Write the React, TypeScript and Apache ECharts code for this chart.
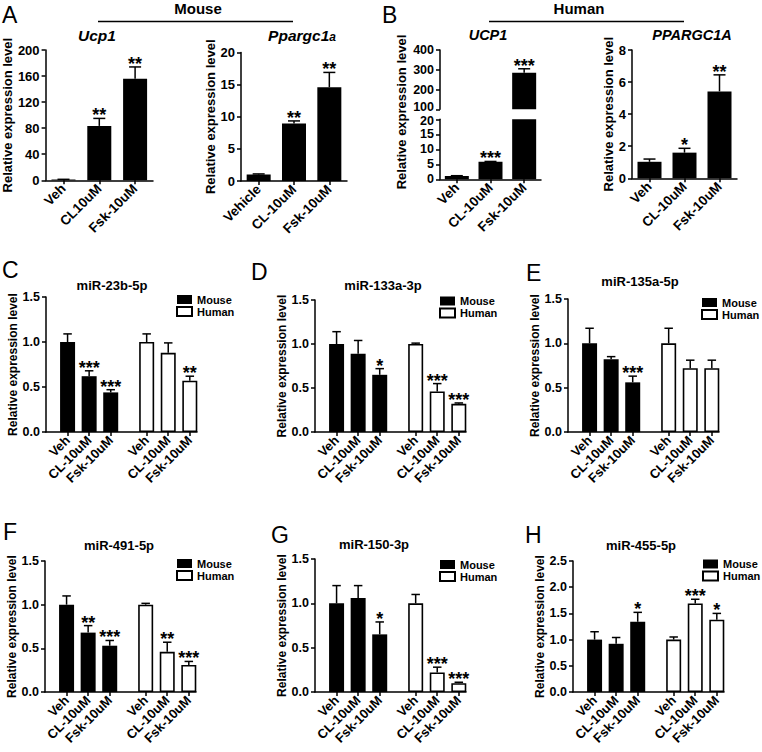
import React, { useEffect, useRef } from 'react';
import * as echarts from 'echarts';

const FONT = '"Liberation Sans", Arial, Helvetica, sans-serif';

// ---------- Panel A / B (mRNA) ----------
const ucp1MouseLabels = ['Veh', 'CL10uM', 'Fsk-10uM'];
const ppargc1aMouseLabels = ['Vehicle', 'CL-10uM', 'Fsk-10uM'];
const humanGeneLabels = ['Veh', 'CL-10uM', 'Fsk-10uM'];

const ucp1MouseValues = [1.2, 83.5, 156];
const ucp1MouseErrors = [1.5, 95, 174];
const ucp1MouseSig = ['', '**', '**'];

const ppargc1aMouseValues = [1.0, 8.95, 14.6];
const ppargc1aMouseErrors = [1.1, 9.35, 16.9];
const ppargc1aMouseSig = ['', '**', '**'];

const ucp1HumanValues = [1.1, 5.85, 285];
const ucp1HumanErrors = [1.2, 5.95, 305];
const ucp1HumanSig = ['', '***', '***'];

const ppargc1aHumanValues = [1.03, 1.6, 5.42];
const ppargc1aHumanErrors = [1.2, 1.87, 6.45];
const ppargc1aHumanSig = ['', '*', '**'];

// ---------- Panels C-H (miRNA) ----------
const mirLabels = ['Veh', 'CL-10uM', 'Fsk-10uM'];
const seriesNames = ['Mouse', 'Human'];

const mir23bMouse = [1.0, 0.62, 0.44];
const mir23bMouseErr = [1.09, 0.68, 0.47];
const mir23bMouseSig = ['', '***', '***'];
const mir23bHuman = [1.0, 0.88, 0.57];
const mir23bHumanErr = [1.09, 0.99, 0.62];
const mir23bHumanSig = ['', '', '**'];

const mir133aMouse = [1.0, 0.89, 0.65];
const mir133aMouseErr = [1.14, 1.04, 0.72];
const mir133aMouseSig = ['', '', '*'];
const mir133aHuman = [1.0, 0.46, 0.32];
const mir133aHumanErr = [1.01, 0.55, 0.33];
const mir133aHumanSig = ['', '***', '***'];

const mir135aMouse = [1.0, 0.82, 0.56];
const mir135aMouseErr = [1.17, 0.85, 0.63];
const mir135aMouseSig = ['', '', '***'];
const mir135aHuman = [1.0, 0.72, 0.72];
const mir135aHumanErr = [1.17, 0.81, 0.81];
const mir135aHumanSig = ['', '', ''];

const mir491Mouse = [1.0, 0.68, 0.53];
const mir491MouseErr = [1.1, 0.76, 0.59];
const mir491MouseSig = ['', '**', '***'];
const mir491Human = [1.0, 0.46, 0.31];
const mir491HumanErr = [1.015, 0.57, 0.35];
const mir491HumanSig = ['', '**', '***'];

const mir150Mouse = [1.0, 1.06, 0.65];
const mir150MouseErr = [1.2, 1.2, 0.79];
const mir150MouseSig = ['', '', '*'];
const mir150Human = [1.0, 0.22, 0.1];
const mir150HumanErr = [1.1, 0.28, 0.11];
const mir150HumanSig = ['', '***', '***'];

const mir455Mouse = [1.0, 0.92, 1.34];
const mir455MouseErr = [1.15, 1.04, 1.52];
const mir455MouseSig = ['', '', '*'];
const mir455Human = [1.0, 1.69, 1.38];
const mir455HumanErr = [1.05, 1.77, 1.5];
const mir455HumanSig = ['', '***', '*'];

const yName = 'Relative expression level';

// ---------- layout ----------
const TOP_N = 7;
const TOP_SLOTS = [1, 3, 5];
const LOW_N = 22;
const LOW_MOUSE_SLOTS = [3, 6, 9];
const LOW_HUMAN_SLOTS = [14, 17, 20];

const axisLineStyle = { color: '#000', width: 1.5 };

function buildOption() {
  const grid: any[] = [];
  const xAxis: any[] = [];
  const yAxis: any[] = [];
  const series: any[] = [];
  const legend: any[] = [];
  const graphic: any[] = [];

  function addGrid(spec: any) {
    const gi = grid.length;
    grid.push({ left: spec.x, top: spec.top, width: spec.width, height: spec.bottom - spec.top });
    const cats = new Array(spec.n).fill('');
    const slots: number[] = spec.slots;
    slots.forEach((s: number, i: number) => (cats[s] = spec.labels[i]));
    const isSlot = (i: number) => slots.indexOf(i) >= 0;
    xAxis.push({
      type: 'category',
      gridIndex: gi,
      data: cats,
      boundaryGap: false,
      show: spec.showX !== false,
      axisLine: { show: true, lineStyle: axisLineStyle },
      axisTick: { show: true, length: 4, interval: (i: number) => isSlot(i), lineStyle: axisLineStyle },
      axisLabel: {
        show: true,
        interval: (i: number) => isSlot(i),
        rotate: 45,
        margin: 6,
        fontSize: spec.xFont,
        fontWeight: 'bold',
        color: '#000',
        fontFamily: FONT,
      },
      splitLine: { show: false },
    });
    yAxis.push({
      type: 'value',
      gridIndex: gi,
      min: spec.ymin,
      max: spec.ymax,
      interval: spec.yint,
      axisLine: { show: true, lineStyle: axisLineStyle },
      axisTick: { show: true, length: 4, lineStyle: axisLineStyle },
      splitLine: { show: false },
      axisLabel: {
        fontSize: spec.yFont,
        fontWeight: 'bold',
        color: '#000',
        fontFamily: FONT,
        margin: 6,
        formatter: spec.fmt,
        rich: spec.yRich,
      },
      name: spec.name || '',
      nameLocation: 'middle',
      nameGap: spec.nameGap || 20,
      nameTextStyle: { fontSize: spec.nameFont, fontWeight: 'bold', color: '#000', fontFamily: FONT },
    });
    return gi;
  }

  function addBars(gi: number, name: string, n: number, slots: number[], values: number[], white: boolean, barWidth: number, keep?: (v: number) => boolean) {
    const data: any[] = new Array(n).fill('-');
    slots.forEach((s, i) => {
      if (!keep || keep(values[i])) data[s] = values[i];
    });
    series.push({
      type: 'bar',
      name,
      xAxisIndex: gi,
      yAxisIndex: gi,
      data,
      barWidth,
      barGap: '-100%',
      clip: true,
      silent: true,
      itemStyle: white ? { color: '#fff', borderColor: '#000', borderWidth: 1.6 } : { color: '#000' },
    });
  }

  function addErrors(gi: number, slots: number[], values: number[], errors: number[], sig: string[], capW: number, keep?: (v: number) => boolean) {
    const items: any[] = [];
    const sigs: string[] = [];
    slots.forEach((s, i) => {
      if (!keep || keep(values[i])) {
        items.push([s, values[i], errors[i]]);
        sigs.push(sig[i]);
      }
    });
    series.push({
      type: 'custom',
      xAxisIndex: gi,
      yAxisIndex: gi,
      silent: true,
      data: items,
      renderItem: (params: any, api: any) => {
        const x = api.value(0);
        const v = api.value(1);
        const e = api.value(2);
        const p0 = api.coord([x, v]);
        const p1 = api.coord([x, e]);
        const children: any[] = [];
        if (e > v) {
          children.push({ type: 'line', shape: { x1: p0[0], y1: p0[1], x2: p0[0], y2: p1[1] }, style: { stroke: '#000', lineWidth: 1.5 } });
          children.push({ type: 'line', shape: { x1: p0[0] - capW / 2, y1: p1[1], x2: p0[0] + capW / 2, y2: p1[1] }, style: { stroke: '#000', lineWidth: 1.5 } });
        }
        const t = sigs[params.dataIndex];
        if (t) {
          children.push({
            type: 'text',
            style: { text: t, x: p0[0], y: p1[1] - 3, align: 'center', verticalAlign: 'middle', fontSize: 18, fontWeight: 'bold', fontFamily: FONT, fill: '#000' },
          });
        }
        return { type: 'group', children };
      },
    });
  }

  function text(x: number, y: number, t: string, size: number, opts: any = {}) {
    graphic.push({
      type: 'text',
      x,
      y,
      rotation: opts.rotation || 0,
      style: {
        text: t,
        fontSize: size,
        fontWeight: opts.weight || 'bold',
        fontStyle: opts.italic ? 'italic' : 'normal',
        fontFamily: FONT,
        fill: '#000',
        align: opts.align || 'center',
        verticalAlign: 'middle',
      },
    });
  }

  // ---------- top panels ----------
  const topPanels = [
    { x: 45, top: 50, bottom: 180.3, width: 108, labels: ucp1MouseLabels, ymax: 200, yint: 40, values: ucp1MouseValues, errors: ucp1MouseErrors, sig: ucp1MouseSig, nameGap: 27.5 },
    { x: 241, top: 52.5, bottom: 181, width: 106, labels: ppargc1aMouseLabels, ymax: 20, yint: 5, values: ppargc1aMouseValues, errors: ppargc1aMouseErrors, sig: ppargc1aMouseSig, nameGap: 20.5 },
    { x: 632, top: 50, bottom: 178.3, width: 105, labels: humanGeneLabels, ymax: 8, yint: 2, values: ppargc1aHumanValues, errors: ppargc1aHumanErrors, sig: ppargc1aHumanSig, nameGap: 15.5 },
  ];
  topPanels.forEach((p, k) => {
    const gi = addGrid({ ...p, n: TOP_N, slots: TOP_SLOTS, ymin: 0, xFont: 13.5, yFont: 13, name: yName, nameFont: 13 });
    addBars(gi, 'gene' + k, TOP_N, TOP_SLOTS, p.values, false, 24);
    addErrors(gi, TOP_SLOTS, p.values, p.errors, p.sig, 12);
  });

  // broken-axis UCP1 (human)
  const breakLow = 20;
  const breakHigh = 100;
  const brokenRich = {
    n: { fontSize: 12.5, fontWeight: 'bold', fontFamily: FONT, color: '#000' },
    up: { fontSize: 12.5, fontWeight: 'bold', fontFamily: FONT, color: '#000', padding: [0, 0, 4, 0] },
    dn: { fontSize: 12.5, fontWeight: 'bold', fontFamily: FONT, color: '#000', padding: [4, 0, 0, 0] },
  };
  const giUp = addGrid({
    x: 440, top: 50, bottom: 109.3, width: 101, n: TOP_N, slots: TOP_SLOTS, labels: humanGeneLabels,
    ymin: breakHigh, ymax: 400, yint: 100, xFont: 13.5, yFont: 12.5, showX: false, yRich: brokenRich,
    fmt: (v: number) => (v === breakHigh ? '{up|' + v + '}' : '{n|' + v + '}'),
  });
  addBars(giUp, 'UCP1', TOP_N, TOP_SLOTS, ucp1HumanValues, false, 24, (v) => v > breakHigh);
  addErrors(giUp, TOP_SLOTS, ucp1HumanValues, ucp1HumanErrors, ucp1HumanSig, 12, (v) => v > breakHigh);
  const giLow = addGrid({
    x: 440, top: 119.3, bottom: 179.3, width: 101, n: TOP_N, slots: TOP_SLOTS, labels: humanGeneLabels,
    ymin: 0, ymax: breakLow, yint: 5, xFont: 13.5, yFont: 12.5, yRich: brokenRich,
    fmt: (v: number) => (v === breakLow ? '{dn|' + v + '}' : '{n|' + v + '}'),
  });
  addBars(giLow, 'UCP1', TOP_N, TOP_SLOTS, ucp1HumanValues, false, 24);
  addErrors(giLow, TOP_SLOTS, ucp1HumanValues, ucp1HumanErrors, ucp1HumanSig, 12, (v) => v <= breakLow);
  text(401, 112, yName, 13, { rotation: Math.PI / 2 });

  // ---------- miRNA panels ----------
  const lowPanels = [
    { x: 46, top: 297, bottom: 432, ymax: 1.5, title: 'miR-23b-5p', tx: 112, ty: 285, lx: 176, ly: 294, nameGap: 24, m: mir23bMouse, me: mir23bMouseErr, ms: mir23bMouseSig, h: mir23bHuman, he: mir23bHumanErr, hs: mir23bHumanSig },
    { x: 315, top: 300, bottom: 432, ymax: 1.5, title: 'miR-133a-3p', tx: 383, ty: 285, lx: 439, ly: 295.5, nameGap: 26, m: mir133aMouse, me: mir133aMouseErr, ms: mir133aMouseSig, h: mir133aHuman, he: mir133aHumanErr, hs: mir133aHumanSig },
    { x: 568, top: 299, bottom: 432, ymax: 1.5, title: 'miR-135a-5p', tx: 640, ty: 281, lx: 701, ly: 297, nameGap: 20, m: mir135aMouse, me: mir135aMouseErr, ms: mir135aMouseSig, h: mir135aHuman, he: mir135aHumanErr, hs: mir135aHumanSig },
    { x: 45, top: 561, bottom: 692, ymax: 1.5, title: 'miR-491-5p', tx: 119, ty: 545, lx: 176, ly: 558, nameGap: 22, m: mir491Mouse, me: mir491MouseErr, ms: mir491MouseSig, h: mir491Human, he: mir491HumanErr, hs: mir491HumanSig },
    { x: 315, top: 559, bottom: 692, ymax: 1.5, title: 'miR-150-3p', tx: 374, ty: 544, lx: 439, ly: 559, nameGap: 26, m: mir150Mouse, me: mir150MouseErr, ms: mir150MouseSig, h: mir150Human, he: mir150HumanErr, hs: mir150HumanSig },
    { x: 573, top: 561, bottom: 692, ymax: 2.5, title: 'miR-455-5p', tx: 641, ty: 545, lx: 702, ly: 558.5, nameGap: 24, m: mir455Mouse, me: mir455MouseErr, ms: mir455MouseSig, h: mir455Human, he: mir455HumanErr, hs: mir455HumanSig },
  ];
  const lowLabels = [...mirLabels, ...mirLabels];
  const lowSlots = [...LOW_MOUSE_SLOTS, ...LOW_HUMAN_SLOTS];
  lowPanels.forEach((p) => {
    const gi = addGrid({
      x: p.x, top: p.top, bottom: p.bottom, width: 151, n: LOW_N, slots: lowSlots, labels: lowLabels,
      ymin: 0, ymax: p.ymax, yint: 0.5, xFont: 13, yFont: 12.5, name: yName, nameFont: 12, nameGap: p.nameGap,
      fmt: (v: number) => v.toFixed(1),
    });
    addBars(gi, seriesNames[0], LOW_N, LOW_MOUSE_SLOTS, p.m, false, 15);
    addBars(gi, seriesNames[1], LOW_N, LOW_HUMAN_SLOTS, p.h, true, 15);
    addErrors(gi, LOW_MOUSE_SLOTS, p.m, p.me, p.ms, 8.5);
    addErrors(gi, LOW_HUMAN_SLOTS, p.h, p.he, p.hs, 8.5);
    legend.push({
      data: seriesNames,
      orient: 'vertical',
      left: p.lx,
      top: p.ly,
      padding: 0,
      itemGap: 1,
      itemWidth: 15,
      itemHeight: 9,
      icon: 'rect',
      selectedMode: false,
      textStyle: { fontSize: 11, fontWeight: 'bold', color: '#000', fontFamily: FONT },
    });
    text(p.tx, p.ty, p.title, 13);
  });

  // ---------- headers, titles, panel letters ----------
  text(198, 8.5, 'Mouse', 15);
  text(579, 8.5, 'Human', 15);
  graphic.push({ type: 'line', shape: { x1: 98, y1: 21.5, x2: 293, y2: 21.5 }, style: { stroke: '#000', lineWidth: 1.5 } });
  graphic.push({ type: 'line', shape: { x1: 489, y1: 21.5, x2: 684, y2: 21.5 }, style: { stroke: '#000', lineWidth: 1.5 } });

  text(97, 35, 'Ucp1', 15.5, { italic: true });
  graphic.push({
    type: 'text',
    x: 302,
    y: 35,
    style: {
      text: '{a|Ppargc1}{b|a}',
      align: 'center',
      verticalAlign: 'middle',
      rich: {
        a: { fontSize: 15.5, fontWeight: 'bold', fontStyle: 'italic', fontFamily: FONT, fill: '#000', color: '#000' },
        b: { fontSize: 12, fontWeight: 'bold', fontStyle: 'italic', fontFamily: FONT, fill: '#000', color: '#000', padding: [3, 0, 0, 0] },
      },
    },
  });
  text(488, 35, 'UCP1', 14.5, { italic: true });
  text(692, 35, 'PPARGC1A', 14.5, { italic: true });

  const letters = [
    ['A', 2, 15], ['B', 382, 15], ['C', 2, 270], ['D', 251, 271.5], ['E', 526, 273],
    ['F', 3, 531.5], ['G', 271, 535], ['H', 525, 535],
  ];
  letters.forEach(([t, x, y]) => text(x as number, y as number, t as string, 23, { weight: 'normal', align: 'left' }));

  return {
    animation: false,
    backgroundColor: '#fff',
    textStyle: { fontFamily: FONT },
    grid,
    xAxis,
    yAxis,
    series,
    legend,
    graphic,
  };
}

export default function App() {
  const ref = useRef<HTMLDivElement>(null);
  useEffect(() => {
    if (!ref.current) return;
    const chart = echarts.init(ref.current, undefined, { renderer: 'svg' });
    chart.setOption(buildOption() as any);
    return () => chart.dispose();
  }, []);
  return <div ref={ref} style={{ position: 'absolute', left: 0, top: 0, width: 762, height: 752, background: '#fff' }} />;
}
